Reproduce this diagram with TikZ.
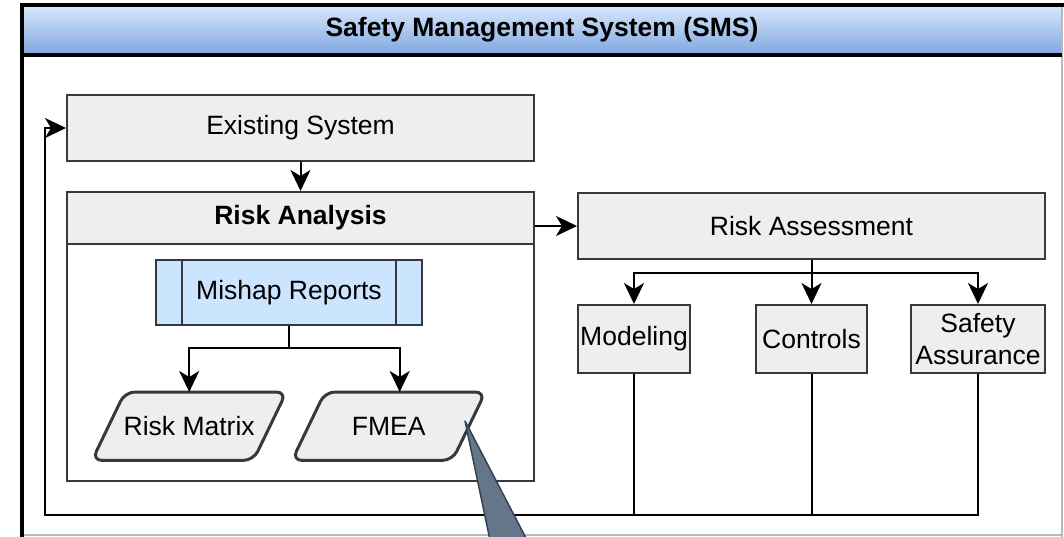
\documentclass[tikz,border=0pt]{standalone}
\usepackage{fontspec}
\setmainfont{Liberation Sans}
\usetikzlibrary{arrows.meta}
\definecolor{boxfill}{HTML}{EEEEEE}
\definecolor{boxdraw}{HTML}{36393D}
\definecolor{mishfill}{HTML}{CCE5FF}
\definecolor{hdtop}{HTML}{DAE8FC}
\definecolor{hdbot}{HTML}{7EA6E0}
\definecolor{tailfill}{HTML}{647687}
\definecolor{taildraw}{HTML}{314354}
\begin{document}
\begin{tikzpicture}[x=1pt,y=-1pt,
  font=\fontsize{26.5}{31.5}\selectfont,
  box/.style={draw=boxdraw, fill=boxfill, line width=2pt, inner sep=0pt, anchor=north west},
  textbox/.style={inner sep=0pt, anchor=north west},
  conn/.style={line width=2pt, draw=black},
  arr/.style={conn, -{Stealth[length=21pt,width=20pt,inset=6pt]}},
  para/.style={draw=boxdraw, fill=boxfill, line width=3pt, rounded corners=10pt},
  frameline/.style={line width=4pt, draw=black},
]
\useasboundingbox (0,0) rectangle (1064,536);

% outer swimlane
\fill[white] (22,55) rectangle (1062,535);
\fill[top color=hdtop, bottom color=hdbot] (22,5) rectangle (1062,55);
\draw[gray!55, line width=1.5pt] (1062,5) -- (1062,537);
\draw[gray!55, line width=1.5pt] (22,535) -- (1062,535);
\draw[frameline] (22,3) -- (22,538);
\draw[frameline] (20,5) -- (1064,5);
\draw[frameline] (22,55) -- (1062,55);
\node[font=\fontsize{26.5}{31.5}\selectfont\bfseries] (title) at (542,30) {Safety Management System (SMS)};

% boxes
\node[box, minimum width=467, minimum height=66] (ES) at (66,94) {Existing System};
\node[box, fill=white, minimum width=467, minimum height=289] (RA) at (66,191) {};
\node[box, minimum width=467, minimum height=52, font=\fontsize{26.5}{31.5}\selectfont\bfseries] (RAh) at (66,191) {Risk Analysis};
\node[box, fill=mishfill, minimum width=266, minimum height=65] (MR) at (155,259) {Mishap Reports};
\draw[draw=boxdraw, line width=2pt] ([xshift=27]MR.north west) -- ([xshift=27]MR.south west);
\draw[draw=boxdraw, line width=2pt] ([xshift=-27]MR.north east) -- ([xshift=-27]MR.south east);

\node[textbox, minimum width=194, minimum height=68] (RM) at (92,392) {};
\draw[para] ([xshift=33]RM.north west) -- (RM.north east) -- ([xshift=-33]RM.south east) -- (RM.south west) -- cycle;
\node at (RM.center) {Risk Matrix};
\node[textbox, minimum width=193, minimum height=68] (FMEA) at (292,392) {};
\draw[para] ([xshift=33]FMEA.north west) -- (FMEA.north east) -- ([xshift=-33]FMEA.south east) -- (FMEA.south west) -- cycle;
\node at (FMEA.center) {FMEA};

\node[box, minimum width=467, minimum height=66] (Assess) at (577,192) {Risk Assessment};
\node[box, minimum width=112, minimum height=68] (Mod) at (577,304) {Modeling};
\node[box, minimum width=111, minimum height=68] (Ctl) at (755,304) {Controls};
\node[box, minimum width=134, minimum height=68, align=center] (SA) at (910,304) {Safety\\Assurance};

% connectors
\draw[arr] (ES.south) -- (RAh.north);
\draw[arr] (RAh.north east |- Assess.west) -- (Assess.west);
\draw[arr] (Assess.south) -- ++(0,13) -| (Mod.north);
\draw[arr] (Assess.south) -- ++(0,13) -| (SA.north);
\draw[arr] (Assess.south) -- (Ctl.north);
\draw[arr] (MR.south) -- ++(0,22) -| (RM.north);
\draw[arr] (MR.south) -- ++(0,22) -| ([xshift=11]FMEA.north);

\coordinate (loopc) at (45,515);
\draw[arr] (SA.south) |- (loopc) |- (ES.west);
\draw[conn] (Mod.south) -- (Mod.south |- loopc);
\draw[conn] (Ctl.south) -- (Ctl.south |- loopc);

% callout tail
\coordinate (tailtip) at (465,421);
\filldraw[fill=tailfill, draw=taildraw, line width=1.5pt, line join=round] (tailtip) -- (490,540) -- (527,540) -- cycle;
\end{tikzpicture}
\end{document}
